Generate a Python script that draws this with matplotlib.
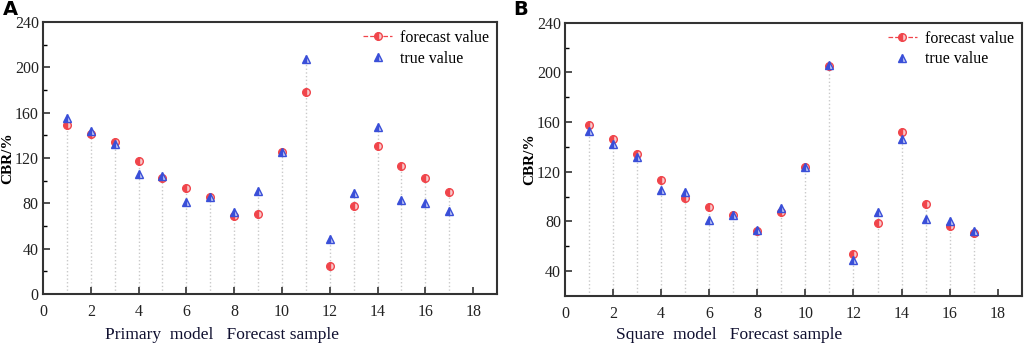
import numpy as np
import matplotlib
matplotlib.use("Agg")
import matplotlib.pyplot as plt
from matplotlib.lines import Line2D

# forecast samples 1..17
samples = list(range(1, 18))

# panel A: primary model
primary_forecast = [149, 141, 134, 117, 102, 94, 86, 69, 71, 125, 178, 25, 78, 131, 113, 102, 90]
primary_true = [155, 144, 132, 106, 104, 81, 86, 72, 91, 125, 207, 49, 89, 147, 83, 80, 73]

# panel B: square model
square_forecast = [158, 146, 134, 113, 99, 92, 85, 72, 88, 124, 205, 54, 79, 152, 94, 76, 71]
square_true = [153, 142, 132, 105, 104, 81, 85, 73, 91, 124, 206, 49, 88, 146, 82, 80, 72]

x_ticks = [0, 2, 4, 6, 8, 10, 12, 14, 16, 18]

plt.rcParams['font.family'] = ['Liberation Serif', 'DejaVu Serif']

RED = '#f0454b'
BLUE = '#3a4fd8'


def draw_panel(ax, forecast, true, ylim, yticks, xlabel, letter, fig, lx, letter_x):
    ymin = ylim[0]
    # dotted drop lines from the axis up to the higher of the two values
    for x, f, t in zip(samples, forecast, true):
        ax.vlines(x, ymin, max(f, t), colors='#c9c9c9', linestyles=':', linewidth=1.0, zorder=1)
    ax.plot(samples, forecast, linestyle='none', marker='o', markersize=5.5, color=RED,
            fillstyle='left', markerfacecoloralt='#f8c9cb', markeredgewidth=1.0, zorder=3)
    ax.plot(samples, true, linestyle='none', marker='^', markersize=5.5, color=BLUE,
            fillstyle='left', markerfacecoloralt='#c9cff5', markeredgewidth=1.0, zorder=4)

    ax.set_xlim(0, 19)
    ax.set_ylim(*ylim)
    ax.set_xticks(x_ticks)
    ax.set_yticks(yticks)
    ax.set_yticks([v + 20 for v in yticks[:-1]], minor=True)
    ax.tick_params(axis='both', direction='in', labelsize=11.5, length=5, width=1.2, colors='#333333',
                   labelcolor='#222222')
    ax.tick_params(axis='x', pad=7)
    ax.tick_params(axis='y', pad=3)
    ax.tick_params(axis='y', which='minor', direction='in', length=3, width=1.0)
    for s in ax.spines.values():
        s.set_linewidth(1.5)
        s.set_color('#333333')
    ax.set_ylabel('CBR/%', fontsize=11, fontweight='bold')
    ax.yaxis.set_label_coords(-0.064, 0.5)

    handles = [
        Line2D([0], [0], color=RED, linestyle='--', linewidth=0.9, marker='o', markersize=5.5,
               fillstyle='left', markerfacecoloralt='#f8c9cb'),
        Line2D([0], [0], color=BLUE, linestyle='none', marker='^', markersize=5.5,
               fillstyle='left', markerfacecoloralt='#c9cff5'),
    ]
    ax.legend(handles, ['forecast value', 'true value'], loc='upper right', frameon=False,
              fontsize=11.5, handlelength=1.8, handletextpad=0.5, borderaxespad=0.1,
              labelspacing=0.3, bbox_to_anchor=(1.0, 1.0))

    fig.text(lx, 0.037, xlabel, fontsize=12.5, color='#101030', ha='left', va='center')
    fig.text(letter_x, 0.945, letter, fontsize=14, fontweight='bold', family='DejaVu Sans',
             ha='left', va='bottom')


fig = plt.figure(figsize=(10.24, 3.48), dpi=100)
axA = fig.add_axes([0.042, 0.155, 0.4434, 0.7816])
axB = fig.add_axes([0.5518, 0.1494, 0.446, 0.7854])

draw_panel(axA, primary_forecast, primary_true, (0, 240), [0, 40, 80, 120, 160, 200, 240],
           'Primary  model   Forecast sample', 'A', fig, 105 / 1024, 3 / 1024)
draw_panel(axB, square_forecast, square_true, (20, 240), [40, 80, 120, 160, 200, 240],
           'Square  model   Forecast sample', 'B', fig, 616 / 1024, 513 / 1024)

fig.savefig('out.png', dpi=100)
